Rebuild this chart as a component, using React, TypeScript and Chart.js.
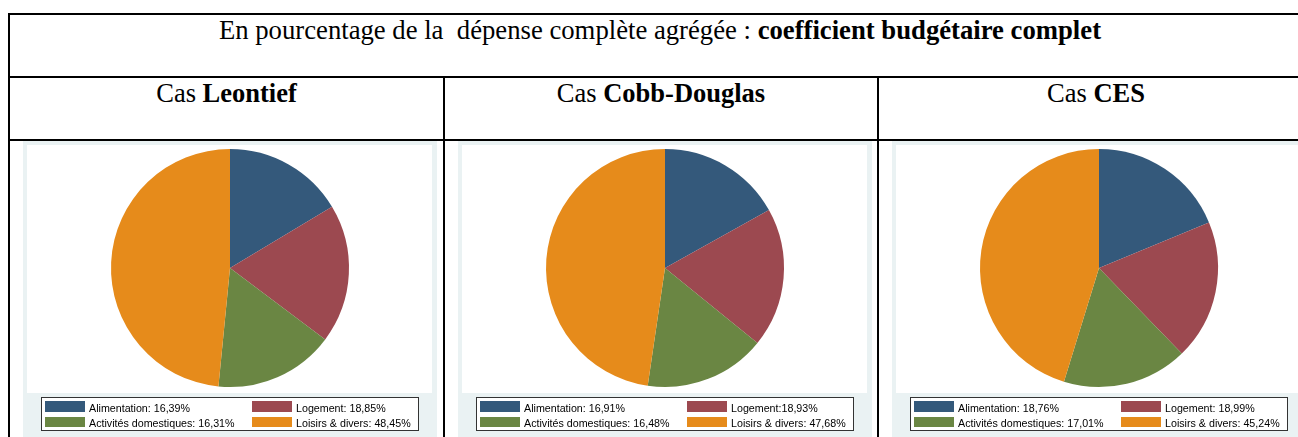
import React, { useEffect, useRef } from "react";
import { Chart, registerables } from "chart.js";

Chart.register(...registerables);

const categories = ["Alimentation", "Logement", "Activités domestiques", "Loisirs & divers"];
const leontiefValues = [16.39, 18.85, 16.31, 48.45];
const cobbDouglasValues = [16.91, 18.93, 16.48, 47.68];
const cesValues = [18.76, 18.99, 17.01, 45.24];
const leontiefSeparators = [": ", ": ", ": ", ": "];
const cobbDouglasSeparators = [": ", ":", ": ", ": "];
const cesSeparators = [": ", ": ", ": ", ": "];
const sliceColors = ["#34597b", "#9c4950", "#6a8643", "#e68b1b"];
const caseNames = ["Leontief", "Cobb-Douglas", "CES"];
const titleRegular = "En pourcentage de la\u00a0 dépense complète agrégée : ";
const titleBold = "coefficient budgétaire complet";

const fmt = (v: number) => v.toFixed(2).replace(".", ",") + "%";

const panelPlugin = {
  id: "stataPanel",
  beforeDraw(chart: any) {
    const ctx = chart.ctx;
    ctx.save();
    ctx.fillStyle = "#eaf2f3";
    ctx.fillRect(0, 0, chart.width, chart.height);
    ctx.fillStyle = "#ffffff";
    ctx.fillRect(4, 4, 405, 248);
    ctx.restore();
  },
  afterDraw(chart: any) {
    const ctx = chart.ctx;
    const labels: string[] = chart.data.labels;
    const ds = chart.data.datasets[0];
    const seps: string[] = chart.options.plugins.stataPanel.separators;
    ctx.save();
    ctx.fillStyle = "#ffffff";
    ctx.fillRect(18.5, 256.5, 377, 33);
    ctx.strokeStyle = "#333333";
    ctx.lineWidth = 1;
    ctx.strokeRect(18.5, 256.5, 377, 33);
    ctx.font = "10.7px 'Liberation Sans', Arial, sans-serif";
    ctx.textBaseline = "alphabetic";
    labels.forEach((lab, i) => {
      const col = i % 2;
      const row = Math.floor(i / 2);
      const x0 = col ? 229 : 22;
      const y0 = row ? 276 : 260;
      ctx.fillStyle = ds.backgroundColor[i];
      ctx.fillRect(x0, y0, 40, row ? 10 : 11);
      ctx.fillStyle = "#000000";
      ctx.fillText(lab + seps[i] + fmt(ds.data[i]), x0 + 44, row ? 285.5 : 270.5);
    });
    ctx.restore();
  },
};

function PiePanel({ values, separators, left }: { values: number[]; separators: string[]; left: number }) {
  const ref = useRef<HTMLCanvasElement | null>(null);
  useEffect(() => {
    if (!ref.current) return;
    const chart = new Chart(ref.current, {
      type: "pie",
      data: {
        labels: categories,
        datasets: [
          {
            data: values,
            backgroundColor: sliceColors,
            borderWidth: 0,
          },
        ],
      },
      options: {
        animation: false,
        responsive: false,
        maintainAspectRatio: false,
        layout: { padding: { top: 8, bottom: 50, left: 0, right: 0 } },
        plugins: {
          legend: { display: false },
          tooltip: { enabled: false },
          stataPanel: { separators },
        } as any,
      },
      plugins: [panelPlugin],
    });
    return () => chart.destroy();
  }, [values, separators]);
  return (
    <canvas
      ref={ref}
      width={414}
      height={296}
      style={{ position: "absolute", left, top: 141, width: 414, height: 296 }}
    />
  );
}

const line = (l: number, t: number, w: number, h: number) => (
  <div style={{ position: "absolute", left: l, top: t, width: w, height: h, background: "#000" }} />
);

export default function App() {
  const serif = "'Liberation Serif', 'Times New Roman', serif";
  const headStyle = (left: number, width: number): React.CSSProperties => ({
    position: "absolute",
    left,
    width,
    top: 80,
    textAlign: "center",
    fontFamily: serif,
    fontSize: 26.5,
    lineHeight: "26px",
    color: "#000",
    whiteSpace: "nowrap",
  });
  return (
    <div
      style={{
        position: "fixed",
        left: 0,
        top: 0,
        width: 1298,
        height: 437,
        overflow: "hidden",
        background: "#fff",
      }}
    >
      {line(8, 13, 1400, 2)}
      {line(8, 76, 1400, 2)}
      {line(8, 139, 1400, 2)}
      {line(8, 13, 2, 500)}
      {line(443, 76, 2, 500)}
      {line(877, 76, 2, 500)}
      <div
        style={{
          position: "absolute",
          left: 8,
          width: 1304,
          top: 17,
          textAlign: "center",
          fontFamily: serif,
          fontSize: 26.7,
          lineHeight: "26px",
          color: "#000",
          whiteSpace: "nowrap",
        }}
      >
        {titleRegular}
        <b>{titleBold}</b>
      </div>
      <div style={headStyle(10, 433)}>
        Cas <b>{caseNames[0]}</b>
      </div>
      <div style={headStyle(445, 432)}>
        Cas <b>{caseNames[1]}</b>
      </div>
      <div style={headStyle(879, 434)}>
        Cas <b>{caseNames[2]}</b>
      </div>
      <PiePanel values={leontiefValues} separators={leontiefSeparators} left={23} />
      <PiePanel values={cobbDouglasValues} separators={cobbDouglasSeparators} left={458} />
      <PiePanel values={cesValues} separators={cesSeparators} left={892} />
    </div>
  );
}
